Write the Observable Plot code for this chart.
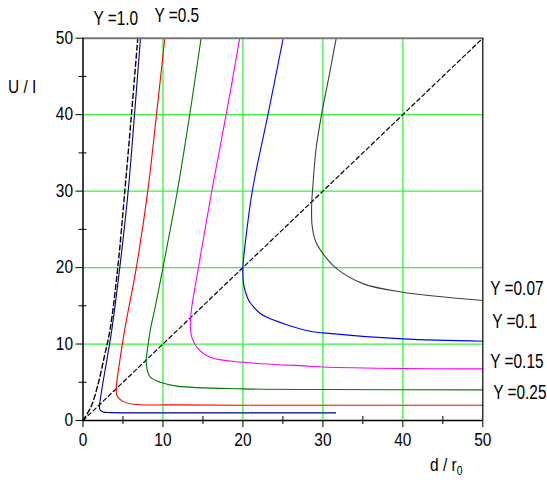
<!DOCTYPE html>
<html>
<head>
<meta charset="utf-8">
<script src="https://cdn.jsdelivr.net/npm/d3@7"></script>
<script src="https://cdn.jsdelivr.net/npm/@observablehq/plot@0.6"></script>
<style>
  html, body { margin: 0; padding: 0; background: #fff; }
  #chart svg { display: block; }
</style>
</head>
<body>
<div id="chart"></div>
<script>
// ---- data (x = d/r0, y = U/I) ----
const curveY100 = [[7.19,50],[6.44,40],[5.65,30],[4.6,20],[3.6,11.86],[3.0,8],[2.5,5],[2.2,3.0],[2.06,1.8],[2.15,1.35],[2.5,1.12],[3.5,1.03],[10.9,1.0],[31.6,1.0]];
const curveY050 = [[10.23,50],[9.19,40],[8.1,30],[6.67,20],[5.21,11.86],[4.67,8.3],[4.17,4.34],[4.25,3.23],[4.88,2.57],[6.33,2.12],[10.9,2.04],[20,2.0],[50,2.0]];
const curveY025 = [[14.77,50],[13.35,40],[11.8,30],[10,20],[9.04,14.87],[8.42,11.86],[8.05,9.2],[7.9,7.8],[8.0,6.77],[8.42,5.66],[9.67,5.0],[11.75,4.5],[20,4.14],[30,4.05],[50,4.0]];
const curveY015 = [[19.6,50],[17.9,40],[16.1,30],[15.1,24],[14.1,18],[13.55,14.4],[13.42,12.3],[13.6,10.9],[14.3,9.5],[15.9,8.28],[20,7.62],[28.4,7.1],[30,7.0],[40,6.8],[50,6.75]];
const curveY010 = [[25.04,50],[23.13,40],[21.17,30],[20.29,23.13],[20,20],[20.08,17.9],[20.71,15.74],[21.33,14.87],[22.17,14.0],[23,13.5],[25.3,12.6],[28.4,11.67],[30,11.46],[40,10.67],[50,10.37]];
const curveY007 = [[31.67,50],[30.75,44.9],[29.83,40],[29.13,35.35],[28.7,30],[28.6,28.35],[28.63,25.74],[29.04,23.57],[30,21.83],[31.8,19.8],[35.1,17.87],[40,16.77],[50,15.7]];
const dashedSteep = [[0,0],[1.0,1.8],[1.85,4.6],[2.7,8.5],[3.38,11.86],[4.35,20],[5.23,30],[6.06,40],[6.85,50]];
const dashedDiag = [[0,0],[50,50]];

const curveNames = ["Y=1.0","Y=0.5","Y=0.25","Y=0.15","Y=0.1","Y=0.07"];
const curveColors = ["#00008b","#ff0000","#007a00","#ff00ff","#0000ff","#404040"];
const curveData = [curveY100, curveY050, curveY025, curveY015, curveY010, curveY007];

const majorTicks = [0,10,20,30,40,50];
const minorTicks = [5,15,25,35,45];
const gridTicks = [10,20,30,40];

const labelText = ["Y =1.0","Y =0.5","Y =0.07","Y =0.1","Y =0.15","Y =0.25"];
const labelX    = [1.31, 8.94, 50.94, 51.19, 50.94, 51.31];
const labelY    = [52.6, 52.9, 17.25, 13.0, 7.71, 3.66];

const xTitle = "d / r";
const xTitleSub = "0";
const yTitle = "U / I";

// ---- build ----
const FONT = "'Liberation Sans',Arial,sans-serif";
const curves = curveData.flatMap((pts, i) => pts.map(([x, y]) => ({name: curveNames[i], x, y})));
const labels = labelText.map((t, i) => ({t, x: labelX[i], y: labelY[i]}));

const W = 547, H = 480;
const mL = 82.5, mR = 64.7, mT = 37.7, mB = 60;
const pxPerX = (W - mL - mR) / 50;
const pxPerY = (H - mT - mB) / 50;
const half = 4;

const chart = Plot.plot({
  width: W, height: H,
  marginLeft: mL, marginRight: mR, marginTop: mT, marginBottom: mB,
  style: {fontFamily: FONT, background: "#fff", color: "#000", overflow: "visible"},
  x: {domain: [0, 50]},
  y: {domain: [0, 50]},
  color: {domain: curveNames, range: curveColors},
  marks: [
    Plot.ruleX(gridTicks, {stroke: "#3ef03e", strokeWidth: 1.3}),
    Plot.ruleY(gridTicks, {stroke: "#3ef03e", strokeWidth: 1.3}),
    Plot.line(dashedDiag, {x: d => d[0], y: d => d[1], stroke: "#000", strokeWidth: 1.2, strokeDasharray: "4,3"}),
    Plot.line(dashedSteep, {x: d => d[0], y: d => d[1], stroke: "#000", strokeWidth: 1.4, strokeDasharray: "5,3", curve: "catmull-rom"}),
    Plot.line(curves, {x: "x", y: "y", z: "name", stroke: "name", strokeWidth: 1.1, curve: "catmull-rom"}),
    Plot.ruleY([50], {stroke: "#777", strokeWidth: 2}),
    Plot.ruleX([50], {stroke: "#000", strokeWidth: 1.2}),
    Plot.ruleX([0], {stroke: "#000", strokeWidth: 1.5}),
    Plot.ruleY([0], {stroke: "#000", strokeWidth: 1.5}),
    Plot.ruleX(minorTicks, {y1: () => -half / pxPerY, y2: () => half / pxPerY, stroke: "#000", strokeWidth: 1}),
    Plot.ruleY(minorTicks, {x1: () => -half / pxPerX, x2: () => half / pxPerX, stroke: "#000", strokeWidth: 1}),
    Plot.axisX({ticks: majorTicks, tickSize: 7, tickPadding: 6, fontSize: 18, label: null, stroke: "#000"}),
    Plot.axisY({ticks: majorTicks, tickSize: 7, tickPadding: 3, fontSize: 18, label: null, stroke: "#000"}),
    Plot.text(labels, {x: "x", y: "y", text: "t", textAnchor: "start", fontSize: 20, fill: "#000", className: "curve-label"})
  ]
});

const svg = d3.select(chart);
svg.append("text")
  .attr("x", 8).attr("y", 93).attr("text-anchor", "start")
  .attr("font-family", FONT).attr("font-size", 18).attr("fill", "#000")
  .text(yTitle);
const xt = svg.append("text")
  .attr("x", 430).attr("y", 471).attr("text-anchor", "start")
  .attr("font-family", FONT).attr("font-size", 18).attr("fill", "#000");
xt.append("tspan").text(xTitle);
xt.append("tspan").attr("font-size", 12).attr("dy", 4).text(xTitleSub);

document.getElementById("chart").appendChild(chart);

// condense all texts horizontally (narrow face in the reference):
// scale each text around its own anchor x so its position is kept
svg.selectAll("text").each(function() {
  const f = this.closest(".curve-label") ? 0.77 : 0.86;
  const ax = parseFloat(this.getAttribute("x")) || 0;
  const t = this.getAttribute("transform") || "";
  this.setAttribute("transform", `${t} translate(${ax},0) scale(${f},1) translate(${-ax},0)`.trim());
});
</script>
</body>
</html>
